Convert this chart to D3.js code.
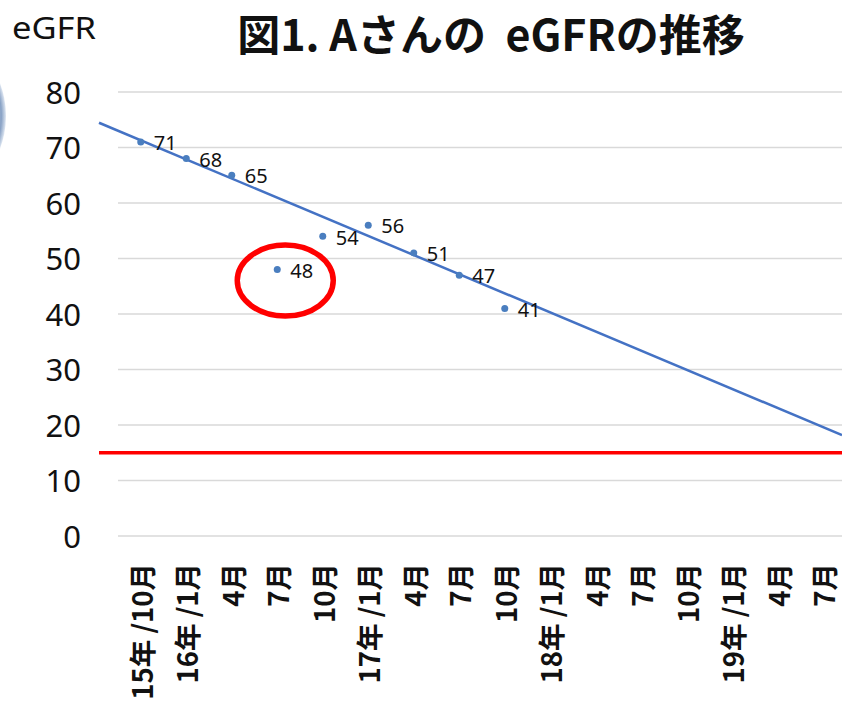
<!DOCTYPE html>
<html><head><meta charset="utf-8">
<script src="https://cdn.jsdelivr.net/npm/d3@7/dist/d3.min.js"></script>
<style>body{margin:0;background:#fff}svg{display:block}</style>
</head><body><svg id="c" width="842" height="703"></svg>
<script>
// ---- data ----
const categories = ["15年 /10月","16年 /1月","4月","7月","10月","17年 /1月","4月","7月","10月","18年 /1月","4月","7月","10月","19年 /1月","4月","7月"];
const egfrValues = [71,68,65,48,54,56,51,47,41];
const yTicks = [0,10,20,30,40,50,60,70,80];
const trendValues = [71.3, 19.6];      // linear trend read at first and last category
const thresholdValue = 15;
const highlightIndex = 3;
const titleText = "図1. Aさんの  eGFRの推移";
const yAxisTitle = "eGFR";

// ---- drawing ----
const W = 842, H = 703;
const svg = d3.select("#c");
svg.append("rect").attr("width",W).attr("height",H).attr("fill","#fff");

const defs = svg.append("defs");
const rg = defs.append("radialGradient").attr("id","orb");
rg.append("stop").attr("offset","0.8").attr("stop-color","#c9d5e6");
rg.append("stop").attr("offset","0.95").attr("stop-color","#8aa3c6");
rg.append("stop").attr("offset","1").attr("stop-color","#dfe7f2");
svg.append("circle").attr("cx",-86).attr("cy",116).attr("r",92).attr("fill","url(#orb)");

const x = d3.scalePoint().domain(d3.range(categories.length)).range([118, 846]).padding(0.5);
const y = d3.scaleLinear().domain([0,80]).range([536, 92]);

// gridlines
svg.append("g").selectAll("line").data(yTicks).join("line")
  .attr("x1",118).attr("x2",W)
  .attr("y1",d=>y(d)).attr("y2",d=>y(d))
  .attr("stroke","#d9d9d9").attr("stroke-width",1.5);

// y axis labels
const yAxis = svg.append("g").attr("transform","translate(81,0)")
  .call(d3.axisLeft(y).tickValues(yTicks).tickSize(0).tickPadding(0));
yAxis.select(".domain").remove();
yAxis.selectAll("text").attr("font-family","'Noto Sans', sans-serif").attr("font-size",31).attr("fill","#111").attr("dy","0.36em");

// threshold line
svg.append("line").attr("x1",99).attr("x2",W)
  .attr("y1",y(thresholdValue)).attr("y2",y(thresholdValue))
  .attr("stroke","#ff0000").attr("stroke-width",3.5);

// trend line (extended beyond data as in the original)
const n = categories.length - 1;
const trendAt = i => trendValues[0] + (trendValues[1]-trendValues[0]) * i / n;
const idxAt = px => (px - x(0)) / x.step();
const trendPts = [99, W].map(px => [px, y(trendAt(idxAt(px)))]);
svg.append("path").attr("d", d3.line()(trendPts))
  .attr("fill","none").attr("stroke","#4472c4").attr("stroke-width",2.5);

// points
svg.append("g").selectAll("circle").data(egfrValues).join("circle")
  .attr("cx",(d,i)=>x(i)).attr("cy",d=>y(d)).attr("r",3.5).attr("fill","#4a7ebf");

// data labels
svg.append("g").selectAll("text").data(egfrValues).join("text")
  .attr("x",(d,i)=>x(i)+13).attr("y",d=>y(d)+1)
  .attr("dy","0.36em")
  .attr("font-family","'Noto Sans', sans-serif").attr("font-size",20).attr("fill","#111")
  .text(d=>d);

// highlight ellipse
svg.append("ellipse")
  .attr("cx", x(highlightIndex)+8).attr("cy", y(egfrValues[highlightIndex])+11)
  .attr("rx",48).attr("ry",35.5)
  .attr("fill","none").attr("stroke","#ff0000").attr("stroke-width",5.5);

// x labels (rotated)
svg.append("g").selectAll("text").data(categories).join("text")
  .attr("transform",(d,i)=>`translate(${x(i)},563) rotate(-90)`)
  .attr("text-anchor","end").attr("dominant-baseline","central")
  .attr("font-family","'Noto Sans CJK JP', sans-serif").attr("font-weight","bold")
  .attr("font-size",27.5).attr("fill","#111")
  .style("white-space","pre")
  .text(d=>d);

// y axis title
svg.append("text").attr("x",12).attr("y",39)
  .attr("font-family","'Noto Sans', sans-serif").attr("font-size",30).attr("fill","#111")
  .attr("textLength",84).attr("lengthAdjust","spacingAndGlyphs")
  .text(yAxisTitle);

// title
svg.append("text").attr("x",491).attr("y",51).attr("text-anchor","middle")
  .attr("font-family","'Noto Sans CJK JP', sans-serif").attr("font-weight","bold")
  .attr("font-size",43).attr("fill","#111")
  .style("white-space","pre")
  .text(titleText);
</script>
</body></html>
